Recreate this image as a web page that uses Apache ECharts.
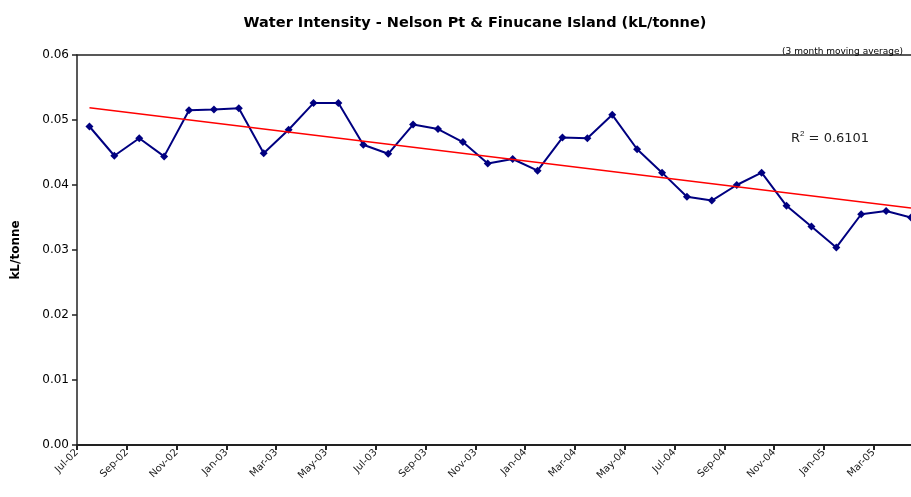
<!DOCTYPE html>
<html>
<head>
<meta charset="utf-8">
<script src="https://cdn.jsdelivr.net/npm/echarts@6/dist/echarts.min.js"></script>
<style>html,body{margin:0;padding:0;background:#fff;}#c{width:911px;height:497px;}</style>
</head>
<body>
<div id="c"></div>
<script>
// Months (one per data point), tick labels shown every second month
var months = ["Jul-02","Aug-02","Sep-02","Oct-02","Nov-02","Dec-02","Jan-03","Feb-03","Mar-03","Apr-03","May-03","Jun-03",
  "Jul-03","Aug-03","Sep-03","Oct-03","Nov-03","Dec-03","Jan-04","Feb-04","Mar-04","Apr-04","May-04","Jun-04",
  "Jul-04","Aug-04","Sep-04","Oct-04","Nov-04","Dec-04","Jan-05","Feb-05","Mar-05","Apr-05"];
// Water intensity, kL/tonne (3 month moving average)
var intensity = [0.0490,0.0445,0.0472,0.0444,0.0515,0.0516,0.0518,0.0449,0.0485,0.0526,0.0526,0.0462,
  0.0448,0.0493,0.0486,0.0466,0.0433,0.0440,0.0422,0.0473,0.0472,0.0508,0.0455,0.0419,
  0.0382,0.0376,0.0400,0.0419,0.0368,0.0336,0.0304,0.0355,0.0360,0.0350];
var yTicks = [0, 0.01, 0.02, 0.03, 0.04, 0.05, 0.06];
var r2Label = "0.6101";

// least squares trend from the data
var n = intensity.length, sx = 0, sy = 0, sxy = 0, sxx = 0;
for (var i = 0; i < n; i++) { sx += i; sy += intensity[i]; sxy += i * intensity[i]; sxx += i * i; }
var slope = (n * sxy - sx * sy) / (n * sxx - sx * sx);
var icpt = (sy - slope * sx) / n;

var lineData = intensity.map(function (v, i) { return [i + 0.5, v]; });
var trendData = [[0.5, icpt], [n - 0.5, icpt + slope * (n - 1)]];

var chart = echarts.init(document.getElementById('c'));
var fontFam = 'DejaVu Sans, Verdana, sans-serif';
chart.setOption({
  animation: false,
  backgroundColor: '#fff',
  title: [{
    text: 'Water Intensity - Nelson Pt & Finucane Island (kL/tonne)',
    left: 470, top: 11, textAlign: 'center',
    textStyle: { fontFamily: fontFam, fontSize: 14.5, fontWeight: 'bold', color: '#000' }
  }, {
    text: '(3 month moving average)',
    right: 3, top: 42,
    textStyle: { fontFamily: fontFam, fontSize: 9, fontWeight: 'normal', color: '#000' }
  }],
  graphic: [{
    type: 'text', left: 791, top: 130,
    style: {
      text: 'R{s|2} = ' + r2Label,
      font: '13px ' + fontFam, fill: '#222',
      rich: { s: { fontSize: 8, verticalAlign: 'top', padding: [0, 0, 9, 0], fill: '#222' } }
    }
  }],
  grid: { left: 77, top: 55, bottom: 52, right: -1, show: false, containLabel: false },
  xAxis: [{
    type: 'value', min: 0, max: n - 0.5, interval: 2,
    splitLine: { show: false },
    axisLine: { show: true, onZero: false, lineStyle: { color: '#222', width: 2 } },
    axisTick: { show: true, length: 5, lineStyle: { color: '#222', width: 2 } },
    axisLabel: {
      rotate: 45, fontSize: 10, fontFamily: fontFam, color: '#222', margin: 6,
      showMaxLabel: false,
      formatter: function (v) { return (Math.round(v) === v && v % 2 === 0 && months[v] && v <= 32) ? months[v] : ''; }
    }
  }, {
    type: 'value', position: 'top', min: 0, max: n - 0.5,
    splitLine: { show: false },
    axisLine: { show: true, onZero: false, lineStyle: { color: '#222', width: 1.5 } },
    axisTick: { show: false }, axisLabel: { show: false }
  }],
  yAxis: {
    type: 'value', min: yTicks[0], max: yTicks[yTicks.length - 1], interval: 0.01,
    name: 'kL/tonne', nameLocation: 'middle', nameGap: 55, nameRotate: 90,
    nameTextStyle: { fontFamily: fontFam, fontSize: 12, fontWeight: 'bold', color: '#000' },
    splitLine: { show: false },
    axisLine: { show: true, lineStyle: { color: '#222', width: 1.5 } },
    axisTick: { show: true, length: 5, lineStyle: { color: '#222', width: 1.5 } },
    axisLabel: {
      fontSize: 12, fontFamily: fontFam, color: '#000', margin: 8,
      formatter: function (v) { return v.toFixed(2); }
    }
  },
  series: [{
    type: 'line', data: lineData, clip: false, xAxisIndex: 0,
    symbol: 'diamond', symbolSize: 8,
    lineStyle: { color: '#000080', width: 2 },
    itemStyle: { color: '#000080' },
    z: 3
  }, {
    type: 'line', data: trendData, symbol: 'none', clip: false, xAxisIndex: 0,
    lineStyle: { color: '#ff0000', width: 1.5 },
    z: 4
  }]
});
</script>
</body>
</html>
